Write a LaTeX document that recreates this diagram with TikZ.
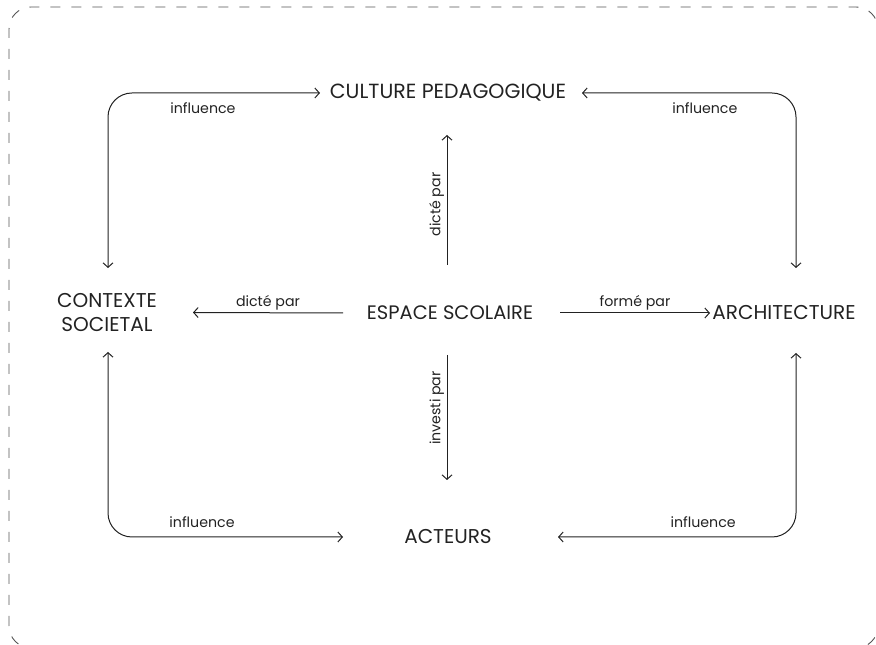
\documentclass[tikz,border=0pt]{standalone}
\usepackage{fontspec}
\setmainfont{Poppins}
\usepackage{xcolor}
\usepackage{tikz}
\definecolor{ink}{HTML}{222222}
\definecolor{framegray}{HTML}{555555}
\usetikzlibrary{positioning, calc, arrows.meta}

\begin{document}
\begin{tikzpicture}[x=1pt, y=1pt, >={Straight Barb[length=4.5pt, width=10pt]},
    concept/.style={text=ink, font=\fontsize{#1}{24}\selectfont, inner sep=0pt},
    concept/.default=20,
    tag/.style={text=ink, font=\fontsize{14.2}{17}\selectfont, inner sep=2.5pt},
    link/.style={draw=ink, line width=1pt, ->},
    loop/.style={draw=ink, line width=1pt, <->, rounded corners=24pt}]
    \useasboundingbox (0,0) rectangle (876,645);

    % Frame
    \draw[framegray, line width=0.9pt, dash pattern=on 10pt off 11pt, rounded corners=22pt] (9,-3) rectangle (878,638);

    % Concepts
    \node[concept=19.5] (espace) at (450,332) {ESPACE SCOLAIRE};
    \node[concept=20.5] (culture) at (448,552) {CULTURE PEDAGOGIQUE};
    \node[concept, align=center] (contexte) at (107,332.5) {CONTEXTE\\SOCIETAL};
    \node[concept] (archi) at (784,332) {ARCHITECTURE};
    \node[concept] (acteurs) at (448,108) {ACTEURS};

    % From the school space
    \draw[link] ([xshift=-107pt]espace.center) -- node[tag, above] {dicté par} ([xshift=86pt]contexte.center);
    \draw[link] ([xshift=110pt]espace.center) -- node[tag, above] {formé par} ([xshift=-74pt]archi.center);
    \draw[link] ([shift={(-3pt,48pt)}]espace.center) -- node[tag, rotate=90, above=2pt, pos=0.45] {dicté par} ([shift={(-3pt,-42pt)}]espace.center |- culture.center);
    \draw[link] ([shift={(-3pt,-42pt)}]espace.center) -- node[tag, rotate=90, above=2pt, pos=0.44] {investi par} ([shift={(-3pt,57pt)}]espace.center |- acteurs.center);

    % Influence loops
    \draw[loop] ([shift={(1pt,44.5pt)}]contexte.center) |- node[tag, pos=0.724, below=6.5pt] {influence} ([xshift=-128pt]culture.center);
    \draw[loop] ([shift={(12pt,45pt)}]archi.center) |- node[tag, pos=0.713, below=6.5pt] {influence} ([xshift=134pt]culture.center);
    \draw[loop] ([shift={(1pt,-39.5pt)}]contexte.center) |- node[tag, pos=0.70, above=6.5pt] {influence} ([xshift=-105pt]acteurs.center);
    \draw[loop] ([shift={(12pt,-40pt)}]archi.center) |- node[tag, pos=0.695, above=6.5pt] {influence} ([xshift=110pt]acteurs.center);
\end{tikzpicture}
\end{document}
